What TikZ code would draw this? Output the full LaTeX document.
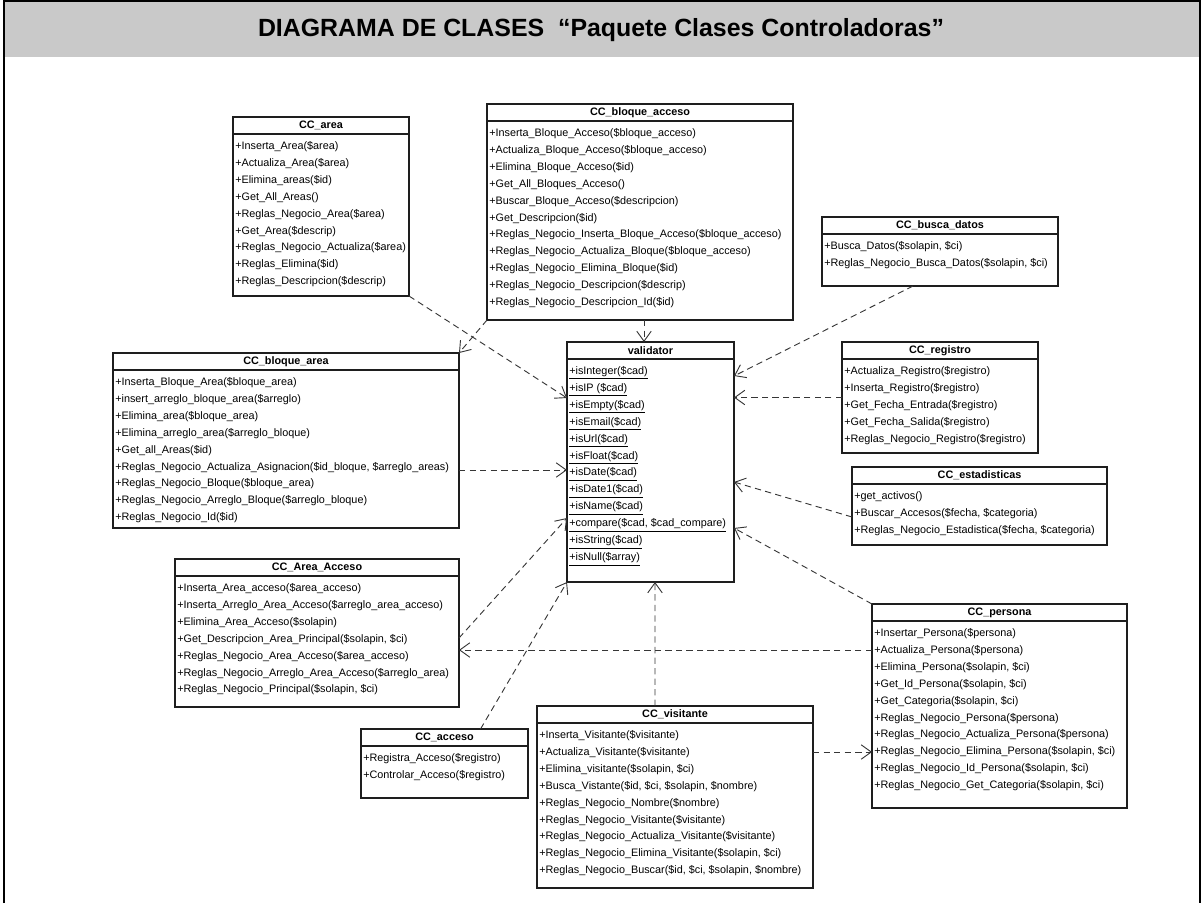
\documentclass[tikz,border=0pt]{standalone}
\usepackage{xcolor}
\usepackage{fontspec}
\setmainfont{Liberation Sans}
\usepackage{tikz}
\usetikzlibrary{arrows.meta, calc}
\definecolor{bandgray}{HTML}{C9C9C9}
\definecolor{boxline}{HTML}{1E1E1E}
\definecolor{depline}{HTML}{363636}

\newcommand{\umlclass}[7]{%
  \node[classbox, minimum width=#4*0.025cm, minimum height=#5*0.025cm] (#1) at (#2,#3) {};
  \node[classname] (#1-name) at ($(#1.north)+(0,8.5)$) {#6};
  \draw[classsep] ($(#1.north west)+(0,17)$) -- ($(#1.north east)+(0,17)$);
  \node[classops] (#1-ops) at ($(#1.north west)+(2,24)$) {#7};
}

\begin{document}
\begin{tikzpicture}[
    x=0.025cm, y=-0.025cm,
    classbox/.style={rectangle, draw=boxline, fill=white, line width=1pt, anchor=north west, inner sep=0pt, outer sep=0pt},
    classname/.style={inner sep=0pt, font=\fontsize{7.7}{9}\selectfont\bfseries},
    classsep/.style={draw=boxline, line width=0.9pt},
    classops/.style={anchor=north west, align=left, inner sep=0pt, font=\fontsize{7.7}{12.05}\selectfont},
    dep/.style={draw=depline, line width=0.65pt, dash pattern=on 4.5pt off 3pt, -{Straight Barb[length=2.5mm, width=3.6mm]}}
]
\useasboundingbox (0,0) rectangle (1201,903);
\fill[white] (0,0) rectangle (1201,903);
\fill[bandgray] (4,1) rectangle (1201,57);
\draw[line width=1pt] (4,903) -- (4,1) -- (1200,1) -- (1200,903);
\node[font=\fontsize{17.7}{20}\selectfont\bfseries] (title) at (601,30) {DIAGRAMA DE CLASES\ \ “Paquete Clases Controladoras”};

\umlclass{area}{233}{117}{176}{179}{CC\_area}{+Inserta\_Area(\$area)\\+Actualiza\_Area(\$area)\\+Elimina\_areas(\$id)\\+Get\_All\_Areas()\\+Reglas\_Negocio\_Area(\$area)\\+Get\_Area(\$descrip)\\+Reglas\_Negocio\_Actualiza(\$area)\\+Reglas\_Elimina(\$id)\\+Reglas\_Descripcion(\$descrip)}
\umlclass{bacc}{487}{104}{306}{216}{CC\_bloque\_acceso}{+Inserta\_Bloque\_Acceso(\$bloque\_acceso)\\+Actualiza\_Bloque\_Acceso(\$bloque\_acceso)\\+Elimina\_Bloque\_Acceso(\$id)\\+Get\_All\_Bloques\_Acceso()\\+Buscar\_Bloque\_Acceso(\$descripcion)\\+Get\_Descripcion(\$id)\\+Reglas\_Negocio\_Inserta\_Bloque\_Acceso(\$bloque\_acceso)\\+Reglas\_Negocio\_Actualiza\_Bloque(\$bloque\_acceso)\\+Reglas\_Negocio\_Elimina\_Bloque(\$id)\\+Reglas\_Negocio\_Descripcion(\$descrip)\\+Reglas\_Negocio\_Descripcion\_Id(\$id)}
\umlclass{busca}{822}{217}{236}{69}{CC\_busca\_datos}{+Busca\_Datos(\$solapin, \$ci)\\+Reglas\_Negocio\_Busca\_Datos(\$solapin, \$ci)}
\umlclass{val}{567}{342}{167}{240}{validator}{\underline{+isInteger(\$cad)}\\\underline{+isIP (\$cad)}\\\underline{+isEmpty(\$cad)}\\\underline{+isEmail(\$cad)}\\\underline{+isUrl(\$cad)}\\\underline{+isFloat(\$cad)}\\\underline{+isDate(\$cad)}\\\underline{+isDate1(\$cad)}\\\underline{+isName(\$cad)}\\\underline{+compare(\$cad, \$cad\_compare)}\\\underline{+isString(\$cad)}\\\underline{+isNull(\$array)}}
\umlclass{barea}{113}{353}{346}{175}{CC\_bloque\_area}{+Inserta\_Bloque\_Area(\$bloque\_area)\\+insert\_arreglo\_bloque\_area(\$arreglo)\\+Elimina\_area(\$bloque\_area)\\+Elimina\_arreglo\_area(\$arreglo\_bloque)\\+Get\_all\_Areas(\$id)\\+Reglas\_Negocio\_Actualiza\_Asignacion(\$id\_bloque, \$arreglo\_areas)\\+Reglas\_Negocio\_Bloque(\$bloque\_area)\\+Reglas\_Negocio\_Arreglo\_Bloque(\$arreglo\_bloque)\\+Reglas\_Negocio\_Id(\$id)}
\umlclass{reg}{842}{342}{196}{111}{CC\_registro}{+Actualiza\_Registro(\$registro)\\+Inserta\_Registro(\$registro)\\+Get\_Fecha\_Entrada(\$registro)\\+Get\_Fecha\_Salida(\$registro)\\+Reglas\_Negocio\_Registro(\$registro)}
\umlclass{est}{852}{467}{255}{78}{CC\_estadisticas}{+get\_activos()\\+Buscar\_Accesos(\$fecha, \$categoria)\\+Reglas\_Negocio\_Estadistica(\$fecha, \$categoria)}
\umlclass{aacc}{175}{559}{284}{148}{CC\_Area\_Acceso}{+Inserta\_Area\_acceso(\$area\_acceso)\\+Inserta\_Arreglo\_Area\_Acceso(\$arreglo\_area\_acceso)\\+Elimina\_Area\_Acceso(\$solapin)\\+Get\_Descripcion\_Area\_Principal(\$solapin, \$ci)\\+Reglas\_Negocio\_Area\_Acceso(\$area\_acceso)\\+Reglas\_Negocio\_Arreglo\_Area\_Acceso(\$arreglo\_area)\\+Reglas\_Negocio\_Principal(\$solapin, \$ci)}
\umlclass{acc}{361}{729}{167}{69}{CC\_acceso}{+Registra\_Acceso(\$registro)\\+Controlar\_Acceso(\$registro)}
\umlclass{vis}{537}{706}{276}{182}{CC\_visitante}{+Inserta\_Visitante(\$visitante)\\+Actualiza\_Visitante(\$visitante)\\+Elimina\_visitante(\$solapin, \$ci)\\+Busca\_Vistante(\$id, \$ci, \$solapin, \$nombre)\\+Reglas\_Negocio\_Nombre(\$nombre)\\+Reglas\_Negocio\_Visitante(\$visitante)\\+Reglas\_Negocio\_Actualiza\_Visitante(\$visitante)\\+Reglas\_Negocio\_Elimina\_Visitante(\$solapin, \$ci)\\+Reglas\_Negocio\_Buscar(\$id, \$ci, \$solapin, \$nombre)}
\umlclass{per}{872}{604}{255}{204}{CC\_persona}{+Insertar\_Persona(\$persona)\\+Actualiza\_Persona(\$persona)\\+Elimina\_Persona(\$solapin, \$ci)\\+Get\_Id\_Persona(\$solapin, \$ci)\\+Get\_Categoria(\$solapin, \$ci)\\+Reglas\_Negocio\_Persona(\$persona)\\+Reglas\_Negocio\_Actualiza\_Persona(\$persona)\\+Reglas\_Negocio\_Elimina\_Persona(\$solapin, \$ci)\\+Reglas\_Negocio\_Id\_Persona(\$solapin, \$ci)\\+Reglas\_Negocio\_Get\_Categoria(\$solapin, \$ci)}

\draw[dep] (area.south east) -- ($(val.north west)+(0,56)$);
\draw[dep] (bacc.south west) -- (barea.north east);
\draw[dep] ($(bacc.south)+(4,0)$) -- ($(val.north)+(-6.5,0)$);
\draw[dep] ($(busca.south)+(-27,0)$) -- ($(val.north east)+(0,34)$);
\draw[dep] (reg.west) -- (val.east |- reg.west);
\draw[dep] ($(est.south west)+(0,-28)$) -- ($(val.north east)+(0,140)$);
\draw[dep] (per.north west) -- ($(val.north east)+(0,186)$);
\draw[dep] ($(barea.north east)+(0,117)$) -- ($(val.north west)+(0,128)$);
\draw[dep] ($(aacc.north east)+(0,79)$) -- ($(val.south west)+(0,-64)$);
\draw[dep] ($(acc.north)+(36,0)$) -- (val.south west);
\draw[dep] ($(per.north west)+(0,46)$) -- ($(aacc.north east)+(0,91)$);
\draw[dep] ($(vis.north)+(-20,0)$) -- ($(val.south)+(4.5,0)$);
\draw[dep] ($(vis.north east)+(0,46)$) -- ($(per.north west)+(0,148)$);
\end{tikzpicture}
\end{document}
